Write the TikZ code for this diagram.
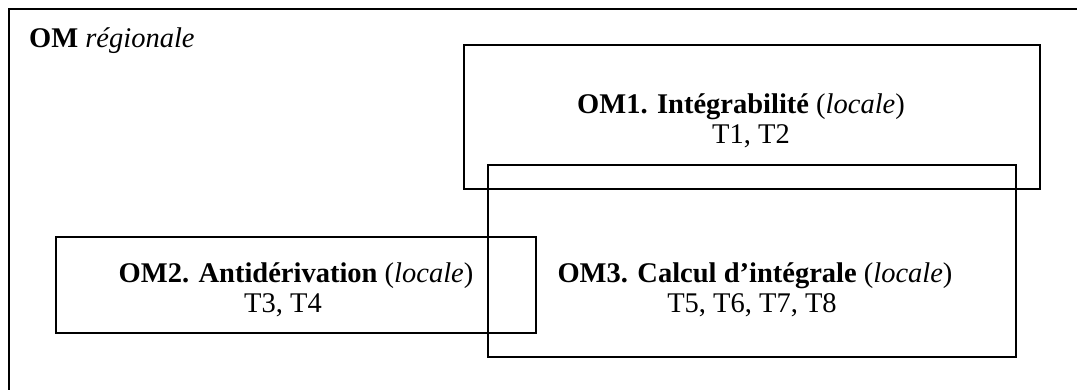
\documentclass[tikz,border=0pt]{standalone}
\usepackage{fontspec}
\setmainfont{Liberation Serif}
\begin{document}
\begin{tikzpicture}[x=1pt,y=-1pt,
  box/.style={draw=black,line width=1.8pt,inner sep=0pt},
  lbl/.style={inner sep=0pt,font=\fontsize{28.5}{32}\selectfont}]
\useasboundingbox (0,0) rectangle (1077,389);
\clip (0,0) rectangle (1077,389);
\node[box,minimum width=1100pt,minimum height=420pt,anchor=north west] (outer) at (8,8) {};
\node[box,minimum width=576.3pt,minimum height=144pt] (om1) at (751.85,117.3) {};
\node[box,minimum width=528.3pt,minimum height=192pt] (om3) at (752.15,261.3) {};
\node[box,minimum width=480.3pt,minimum height=96pt] (om2) at (296.15,285.3) {};
\node[lbl,anchor=base west] (reg) at (29,47) {\textbf{OM} \textit{régionale}};
\node[lbl,anchor=base] (h1) at (741,113) {\textbf{OM1. Intégrabilité} (\textit{locale})};
\node[lbl,anchor=base] (k1) at (751,143) {T1, T2};
\node[lbl,anchor=base] (h2) at (296,282) {\textbf{OM2. Antidérivation} (\textit{locale})};
\node[lbl,anchor=base] (k2) at (283,312) {T3, T4};
\node[lbl,anchor=base] (h3) at (755,282) {\textbf{OM3. Calcul d’intégrale} (\textit{locale})};
\node[lbl,anchor=base] (k3) at (752,312) {T5, T6, T7, T8};
\end{tikzpicture}
\end{document}
